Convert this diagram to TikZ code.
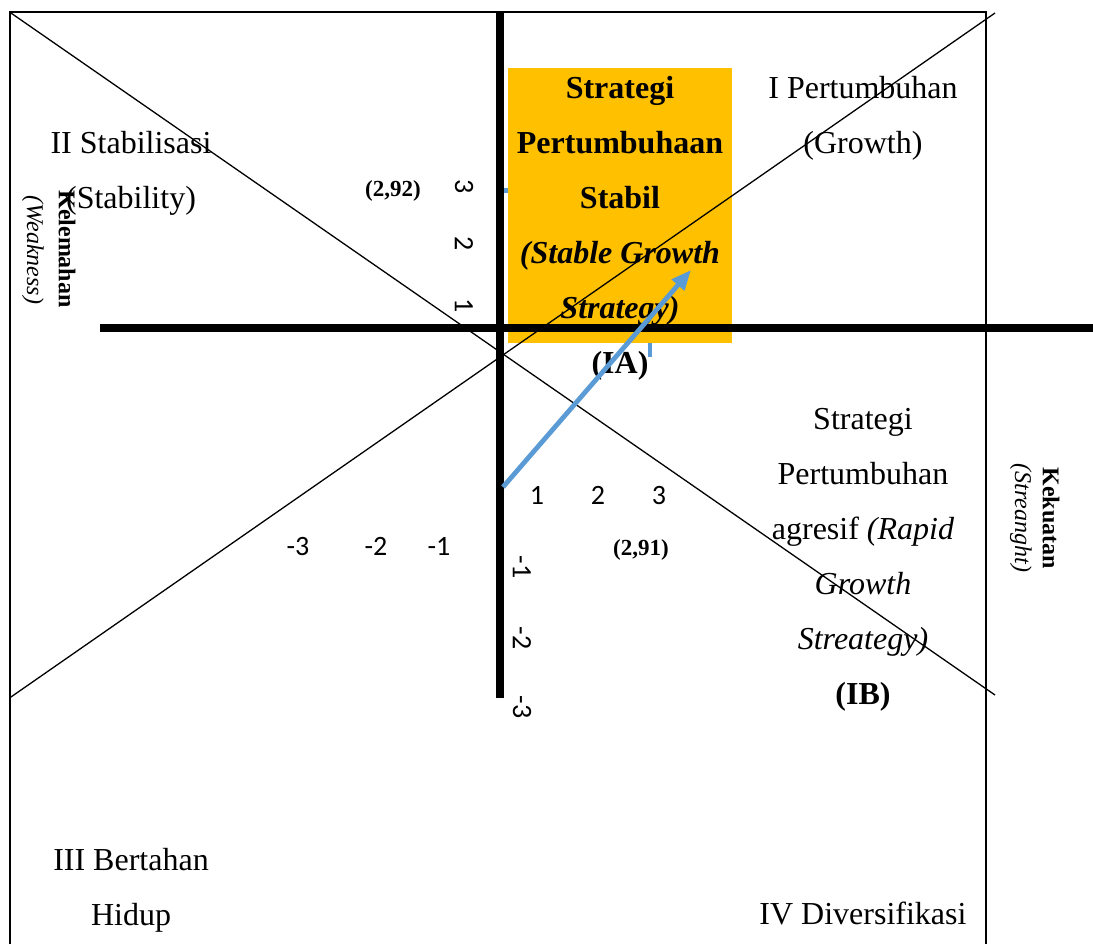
\documentclass[tikz,border=0pt]{standalone}
\usepackage{fontspec}
\setmainfont{Liberation Serif}
\newfontfamily\tickfont{Carlito}
\usetikzlibrary{arrows.meta}
\definecolor{boxgold}{HTML}{FFC000}
\definecolor{arrowblue}{HTML}{5B9BD5}
\tikzset{
  quadtext/.style={font=\fontsize{16}{27.5}\selectfont, align=center, inner sep=0pt, anchor=base},
  tick/.style={font=\tickfont\fontsize{14}{16}\selectfont, inner sep=0pt},
  ytick/.style={tick, rotate=-90},
  score/.style={font=\bfseries\fontsize{11.5}{13}\selectfont, inner sep=0pt, anchor=base},
  sidelabel/.style={inner sep=0pt, rotate=-90}
}
\begin{document}
\begin{tikzpicture}[x=0.5pt, y=-0.5pt]
  \useasboundingbox (0,0) rectangle (1093,944);

  % frame corners and ends of the cross lines
  \coordinate (tl) at (9.5,12);
  \coordinate (tr) at (986,12);
  \coordinate (bl) at (9.5,944);
  \coordinate (br) at (986,944);
  \coordinate (diagA) at (995,695);
  \coordinate (diagB1) at (9.5,698);
  \coordinate (diagB2) at (995,13);

  % frame
  \draw[line width=1pt] (bl) -- (tl) -- (tr) -- (br);

  % stable growth box
  \fill[boxgold] (508,68) rectangle (732,343);

  % quadrant texts (anchored at the baseline of the last line)
  \node[quadtext] (ia) at (620,373)
  {\textbf{Strategi}\\\textbf{Pertumbuhaan}\\\textbf{Stabil}\\
   \textbf{\textit{(Stable Growth}}\\\textbf{\textit{Strategy)}}\\\textbf{(IA)}};
  \node[quadtext] (q1) at (863,153) {I Pertumbuhan\\(Growth)};
  \node[quadtext] (q2) at (131,208) {II Stabilisasi\\(Stability)};
  \node[quadtext] (q3) at (131,925) {III Bertahan\\Hidup};
  \node[quadtext] (q4) at (863,924) {IV Diversifikasi};
  \node[quadtext] (ib) at (863,704)
  {Strategi\\Pertumbuhan\\agresif \textit{(Rapid}\\\textit{Growth}\\
   \textit{Streategy)}\\\textbf{(IB)}};

  % ticks
  \foreach \v/\x in {1/537, 2/598, 3/659}
    \node[tick, anchor=base] (x\v) at (\x,504) {\v};
  \foreach \v/\x in {3/298, 2/376, 1/439}
    \node[tick, anchor=base] (xm\v) at (\x,555) {-\v};
  \foreach \v/\y in {3/187, 2/244, 1/306}
    \node[ytick] (y\v) at (464,\y) {\v};
  \foreach \v/\y in {1/567, 2/638, 3/707}
    \node[ytick] (ym\v) at (522,\y) {-\v};

  % scores
  \node[score] (sw) at (393,196) {(2,92)};
  \node[score] (ss) at (641,555) {(2,91)};

  % axis names
  \node[sidelabel, font=\bfseries\fontsize{12}{14}\selectfont] (kel) at (67,249) {Kelemahan};
  \node[sidelabel, font=\itshape\fontsize{12}{14}\selectfont] (weak) at (33,250) {(Weakness)};
  \node[sidelabel, font=\bfseries\fontsize{12}{14}\selectfont] (kek) at (1051,518) {Kekuatan};
  \node[sidelabel, font=\itshape\fontsize{12}{14}\selectfont] (streng) at (1021,518) {(Streanght)};

  % cross lines
  \draw[line width=0.65pt] (tl) -- (diagA);
  \draw[line width=0.65pt] (diagB1) -- (diagB2);

  % axes
  \coordinate (xl) at (100,328);
  \coordinate (xr) at (1093,328);
  \coordinate (yt) at (500,13);
  \coordinate (yb) at (500,698);
  \draw[line width=4pt] (xl) -- (xr);
  \draw[line width=3.7pt] (yt) -- (yb);

  % position arrow
  \coordinate (start) at (503,487);
  \coordinate (tip) at (691,270);
  \draw[arrowblue, line width=2.4pt, -{Triangle[length=10pt, width=8pt]}] (start) -- (tip);
  \fill[arrowblue] (504,188) rectangle (508,193);
  \draw[arrowblue, line width=2pt] (650,343) -- (650,357);
\end{tikzpicture}
\end{document}
